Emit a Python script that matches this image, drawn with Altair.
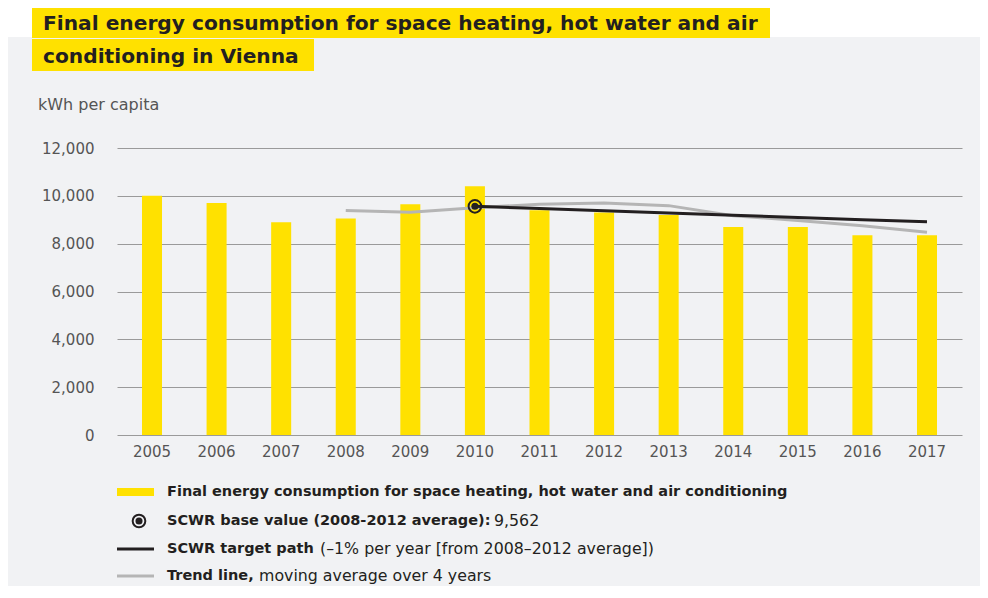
import altair as alt
import pandas as pd

# ---------------- data ----------------
years = [2005, 2006, 2007, 2008, 2009, 2010, 2011, 2012, 2013, 2014, 2015, 2016, 2017]
consumption = [10000, 9700, 8900, 9050, 9650, 10400, 9400, 9300, 9200, 8700, 8700, 8350, 8350]

trend_years = [2008, 2009, 2010, 2011, 2012, 2013, 2014, 2015, 2016, 2017]
trend_values = [9390, 9310, 9500, 9650, 9700, 9590, 9170, 8970, 8750, 8480]

target_years = [2010, 2011, 2012, 2013, 2014, 2015, 2016, 2017]
target_values = [9562, 9466, 9372, 9278, 9185, 9093, 9002, 8912]

base_year = [2010]
base_value = [9562]

y_ticks = [0, 2000, 4000, 6000, 8000, 10000, 12000]

title_line1 = "Final energy consumption for space heating, hot water and air"
title_line2 = "conditioning in Vienna"
y_title = "kWh per capita"

leg1_bold = "Final energy consumption for space heating, hot water and air conditioning"
leg2_bold = "SCWR base value (2008-2012 average):"
leg2_reg = "9,562"
leg3_bold = "SCWR target path"
leg3_reg = "(\u20131% per year [from 2008\u20132012 average])"
leg4_bold = "Trend line,"
leg4_reg = "moving average over 4 years"

# ---------------- styles ----------------
FONT = "DejaVu Sans"
YELLOW = "#FFE100"
DARK = "#231f20"
GREYLINE = "#b5b5b5"
BG = "#f1f2f4"

W, H = 845, 287

bars_df = pd.DataFrame({"year": years, "value": consumption})
trend_df = pd.DataFrame({"year": trend_years, "value": trend_values})
target_df = pd.DataFrame({"year": target_years, "value": target_values})
base_df = pd.DataFrame({"year": base_year, "value": base_value})
dummy = pd.DataFrame({"d": [0]})

x_scale = alt.Scale(domain=years, paddingInner=0.69, paddingOuter=0.387)
y_scale = alt.Scale(domain=[0, 12000], nice=False)

x_enc = alt.X("year:O", scale=x_scale,
              axis=alt.Axis(title=None, labelAngle=0, labelFontSize=15, labelColor="#555",
                            labelFont=FONT, domain=False, ticks=False, labelPadding=9))
y_enc = alt.Y("value:Q", scale=y_scale,
              axis=alt.Axis(title=None, values=y_ticks, format=",d", labelFontSize=15,
                            labelColor="#555", labelFont=FONT, labelPadding=23,
                            domain=False, ticks=False, grid=True, gridColor="#9a9a9a",
                            gridWidth=1))

bars = alt.Chart(bars_df).mark_bar(color=YELLOW).encode(x=x_enc, y=y_enc)

trend = alt.Chart(trend_df).mark_line(color=GREYLINE, strokeWidth=3).encode(
    x=alt.X("year:O", scale=x_scale), y=alt.Y("value:Q", scale=y_scale))

target = alt.Chart(target_df).mark_line(color=DARK, strokeWidth=3).encode(
    x=alt.X("year:O", scale=x_scale), y=alt.Y("value:Q", scale=y_scale))

base_ring = alt.Chart(base_df).mark_point(shape="circle", size=160, filled=False,
                                          stroke=DARK, strokeWidth=2, opacity=1).encode(
    x=alt.X("year:O", scale=x_scale), y=alt.Y("value:Q", scale=y_scale))
base_dot = alt.Chart(base_df).mark_point(shape="circle", size=50, filled=True,
                                         color=DARK, opacity=1).encode(
    x=alt.X("year:O", scale=x_scale), y=alt.Y("value:Q", scale=y_scale))


def rect(x1, x2, y1, y2, color):
    return alt.Chart(dummy).mark_rect(color=color).encode(
        x=alt.value(x1), x2=alt.value(x2), y=alt.value(y1), y2=alt.value(y2))


def txt(s, x, y, size=15, bold=False, color=DARK, baseline="middle"):
    return alt.Chart(dummy).mark_text(
        text=s, align="left", baseline=baseline, font=FONT, fontSize=size,
        fontWeight="bold" if bold else "normal", color=color).encode(
        x=alt.value(x), y=alt.value(y))


def hrule(x1, x2, y, color, width):
    return alt.Chart(dummy).mark_rule(color=color, strokeWidth=width).encode(
        x=alt.value(x1), x2=alt.value(x2), y=alt.value(y))


# decorations (plot-area pixel coordinates)
white_top = rect(-109, 880, -140, -111, "white")
title_box1 = rect(-85, 653, -141, -110, YELLOW)
title_box2 = rect(-85, 197, -109, -77, YELLOW)
title1 = txt(title_line1, -74, -118, size=20.2, bold=True, baseline="alphabetic")
title2 = txt(title_line2, -74, -85, size=20.2, bold=True, baseline="alphabetic")
ylab = txt(y_title, -79, -38, size=16, color="#555", baseline="alphabetic")

LB = 14.5
LR = 15.8
R1, R2, R3, R4 = 344, 373, 401, 428
leg_swatch = rect(0, 37, R1 - 4, R1 + 4, YELLOW)
leg1 = txt(leg1_bold, 50, R1, size=LB, bold=True)
leg_ring = alt.Chart(dummy).mark_point(shape="circle", size=160, filled=False, stroke=DARK,
                                       strokeWidth=2, opacity=1).encode(
    x=alt.value(22), y=alt.value(R2))
leg_dot = alt.Chart(dummy).mark_point(shape="circle", size=50, filled=True, color=DARK,
                                      opacity=1).encode(x=alt.value(22), y=alt.value(R2))
leg2a = txt(leg2_bold, 50, R2, size=LB, bold=True)
leg2b = txt(leg2_reg, 377, R2, size=LR)
leg_black = hrule(0, 37, R3, DARK, 3)
leg3a = txt(leg3_bold, 50, R3, size=LB, bold=True)
leg3b = txt(leg3_reg, 203, R3, size=LR)
leg_grey = hrule(0, 37, R4, GREYLINE, 3)
leg4a = txt(leg4_bold, 50, R4, size=LB, bold=True)
leg4b = txt(leg4_reg, 142, R4, size=LR)

chart = alt.layer(
    bars, trend, target, base_ring, base_dot,
    white_top, title_box1, title_box2, title1, title2, ylab,
    leg_swatch, leg1, leg_ring, leg_dot, leg2a, leg2b,
    leg_black, leg3a, leg3b, leg_grey, leg4a, leg4b,
).properties(
    width=W, height=H,
    autosize=alt.AutoSizeParams(type="none"),
    padding={"left": 109, "top": 140, "right": 18, "bottom": 151},
    background=BG,
).configure_view(stroke=None)

chart.save("out.html", embed_options={"renderer": "svg", "actions": False})
